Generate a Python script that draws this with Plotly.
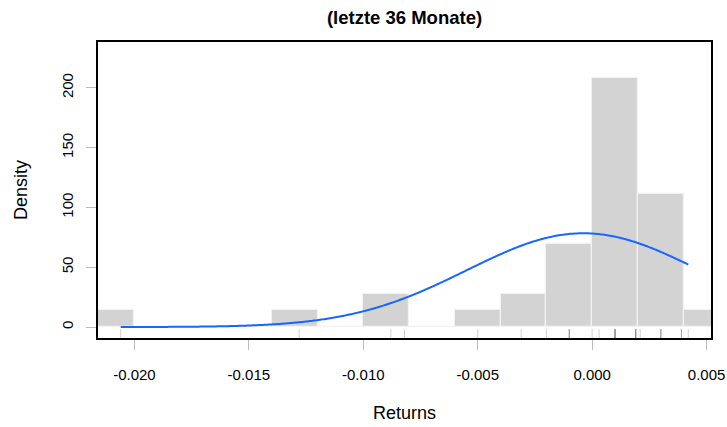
import numpy as np
import plotly.graph_objects as go

# ---- data ----
returns = [
    -0.0206, -0.0128, -0.0088, -0.0082, -0.0050, -0.0031, -0.0020,
    -0.0010, -0.0010, -0.0010, -0.0010, 0.0000,
    0.0003, 0.0010, 0.0010, 0.0010, 0.0010, 0.0010, 0.0010, 0.0010,
    0.0019, 0.0019, 0.0019, 0.0019, 0.0019, 0.0019, 0.0019,
    0.0021, 0.0030, 0.0030, 0.0030, 0.0030, 0.0039, 0.0039, 0.0039,
    0.0042,
]
bin_lefts = [-0.022, -0.020, -0.018, -0.016, -0.014, -0.012, -0.010,
             -0.008, -0.006, -0.004, -0.002, 0.000, 0.002, 0.004]
bin_counts = [1, 0, 0, 0, 1, 0, 2, 0, 1, 2, 5, 15, 8, 1]
bin_width = 0.002

x_tickvals = [-0.020, -0.015, -0.010, -0.005, 0.000, 0.005]
x_ticktext = ["-0.020", "-0.015", "-0.010", "-0.005", "0.000", "0.005"]
y_tickvals = [0, 50, 100, 150, 200]
y_ticktext = ["0", "50", "100", "150", "200"]

title_text = "(letzte 36 Monate)"
x_title = "Returns"
y_title = "Density"

# ---- derived ----
r = np.array(returns)
n = len(r)
density = [c / (n * bin_width) for c in bin_counts]
centers = [b + bin_width / 2 for b in bin_lefts]

mu = float(r.mean())
sd = float(r.std(ddof=1))
xc = np.linspace(r.min(), r.max(), 400)
yc = np.exp(-0.5 * ((xc - mu) / sd) ** 2) / (sd * np.sqrt(2 * np.pi))

xspan = float(r.max() - r.min())
xrange_ = [float(r.min()) - 0.04 * xspan, float(r.max()) + 0.04 * xspan]
ymax = max(density) * 1.1
yrange_ = [-0.04 * ymax, 1.04 * ymax]

FONT = "Liberation Sans, Arial, Helvetica, sans-serif"

fig = go.Figure()
fig.add_trace(go.Bar(
    x=centers, y=density, width=bin_width,
    marker=dict(color="#D3D3D3", line=dict(color="#F2F2F2", width=1.2)),
    hoverinfo="skip",
))
fig.add_trace(go.Scatter(
    x=xc.tolist(), y=yc.tolist(), mode="lines",
    line=dict(color="#1766FF", width=2, simplify=False),
    hoverinfo="skip",
))

# rug
for v in returns:
    fig.add_shape(type="line", xref="x", yref="y domain",
                  x0=v, x1=v, y0=0, y1=0.03,
                  line=dict(color="rgba(140,140,140,0.4)", width=1),
                  layer="above")

fig.update_layout(
    width=727, height=427,
    margin=dict(l=98, r=16, t=42, b=89, autoexpand=False),
    plot_bgcolor="white", paper_bgcolor="white",
    showlegend=False, bargap=0,
    font=dict(family=FONT, color="black", size=15),
    title=dict(text="<b>" + title_text + "</b>", x=0.5, xref="paper",
               y=1 - 18 / 427, yref="container", yanchor="middle",
               xanchor="center", font=dict(size=18.5, family=FONT),
               automargin=False),
)
fig.update_xaxes(
    range=xrange_, tickvals=x_tickvals, ticktext=x_ticktext,
    ticks="outside", ticklen=10, tickcolor="#BEBEBE", tickwidth=1,
    showline=True, linecolor="black", linewidth=2, mirror=True,
    showgrid=False, zeroline=False, tickfont=dict(size=15),
    automargin=False, ticklabelstandoff=12,
)
fig.update_yaxes(
    range=yrange_, tickvals=y_tickvals, ticktext=y_ticktext,
    ticks="outside", ticklen=10, tickcolor="#BEBEBE", tickwidth=1,
    showline=True, linecolor="black", linewidth=2, mirror=True,
    showgrid=False, zeroline=False, tickangle=-90, tickfont=dict(size=15),
    automargin=False, ticklabelstandoff=7,
)
fig.add_annotation(text=x_title, xref="paper", yref="paper",
                   x=0.5, y=(338 - 413) / 296, xanchor="center", yanchor="middle",
                   showarrow=False, font=dict(size=18, family=FONT))
fig.add_annotation(text=y_title, xref="paper", yref="paper",
                   x=(21 - 98) / 613, y=0.5, xanchor="center", yanchor="middle",
                   textangle=-90, showarrow=False, font=dict(size=18, family=FONT))

fig.write_html("out.html", config={"displayModeBar": False},
               post_script="document.body.style.margin='0';document.body.style.padding='0';")
